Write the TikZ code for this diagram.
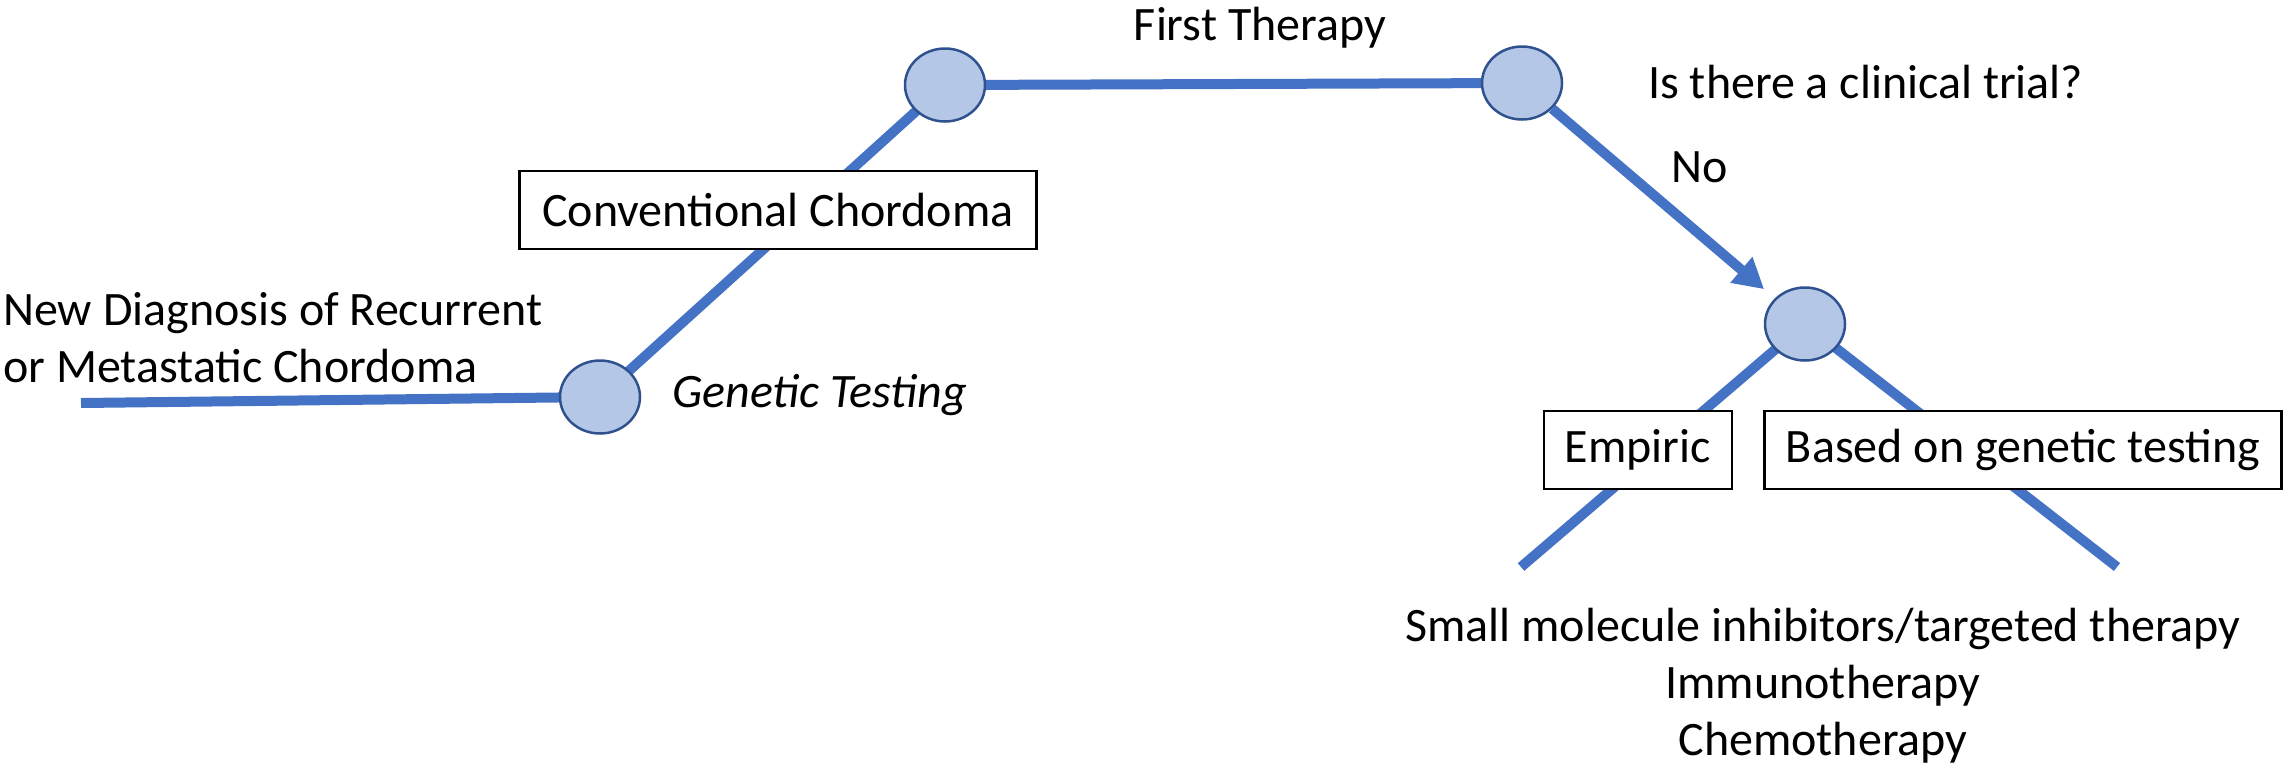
\documentclass[tikz,border=0pt]{standalone}
\usepackage{fontspec}
\setmainfont{Carlito}
\usetikzlibrary{arrows.meta,shapes.geometric}
\definecolor{lineblue}{HTML}{4472C4}
\definecolor{nodefill}{HTML}{B4C7E7}
\definecolor{nodeedge}{HTML}{2F528F}
\pgfdeclarelayer{bg}
\pgfsetlayers{bg,main}
\begin{document}
\begin{tikzpicture}[x=1pt,y=-1pt,
  dot/.style={ellipse, draw=nodeedge, line width=2.5pt, fill=nodefill, minimum width=80pt, minimum height=73pt, inner sep=0pt},
  branch/.style={draw=lineblue, line width=10pt},
  lbl/.style={font=\fontsize{48}{57}\selectfont, inner sep=0pt},
  box/.style={draw=black, line width=2.5pt, fill=white, font=\fontsize{48}{57}\selectfont, inner sep=0pt, minimum height=78pt}]
\useasboundingbox (0,0) rectangle (2285,764);
\node[dot] (a) at (600,397) {};
\node[dot] (b) at (945,85) {};
\node[dot] (c) at (1522,83) {};
\node[dot] (d) at (1805,324) {};
\coordinate (start) at (81,403);
\coordinate (el) at (1521,567);
\coordinate (er) at (2117,567);
\node[box, minimum width=517pt] (cc) at (778,210) {Conventional Chordoma};
\node[box, minimum width=188pt] (emp) at (1638,450) {Empiric};
\node[box, minimum width=517pt] (bgt) at (2023,450) {Based on genetic testing};
\begin{pgfonlayer}{bg}
\draw[branch] (start) -- (a.center);
\draw[branch] (a.center) -- (b.center);
\draw[branch] (b.center) -- (c.center);
\draw[branch] (d.center) -- (el);
\draw[branch] (d.center) -- (er);
\end{pgfonlayer}
\draw[branch, -{Triangle[length=30pt,width=32pt]}, shorten >=14pt] (c) -- (d);
\node[lbl, anchor=base west, align=left] (diag) at (3,382) {New Diagnosis of Recurrent\\or Metastatic Chordoma};
\node[lbl, anchor=base west, font=\fontsize{48}{57}\selectfont\itshape] (gen) at (672,407) {Genetic Testing};
\node[lbl, anchor=base] (first) at (1260,40) {First Therapy};
\node[lbl, anchor=base west] (trial) at (1648,98) {Is there a clinical trial?};
\node[lbl, anchor=base west] (no) at (1671,182) {No};
\node[lbl, anchor=base, align=center] (opts) at (1823,755) {Small molecule inhibitors/targeted therapy\\Immunotherapy\\Chemotherapy};
\end{tikzpicture}
\end{document}
